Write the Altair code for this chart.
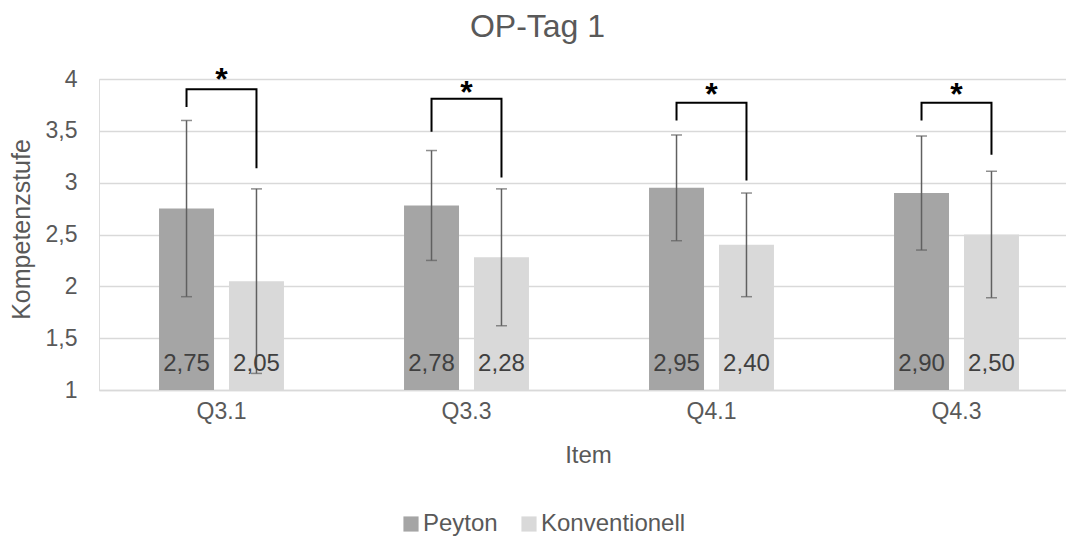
import altair as alt
import pandas as pd

# ---- data ----
items = ["Q3.1", "Q3.3", "Q4.1", "Q4.3"]
groups = ["Peyton", "Konventionell"]
peyton_mean = [2.75, 2.78, 2.95, 2.90]
peyton_sd = [0.85, 0.53, 0.51, 0.55]
konv_mean = [2.05, 2.28, 2.40, 2.50]
konv_sd = [0.89, 0.66, 0.50, 0.61]
value_labels_p = ["2,75", "2,78", "2,95", "2,90"]
value_labels_k = ["2,05", "2,28", "2,40", "2,50"]

# significance brackets (y values)
bracket_top = [3.90, 3.81, 3.77, 3.77]
bracket_left_end = [3.73, 3.49, 3.60, 3.60]
bracket_right_end = [3.14, 3.05, 3.02, 3.27]
star_y = [4.07, 3.94, 3.92, 3.92]
star_text = ["*", "*", "*", "*"]

y_ticks = [1, 1.5, 2, 2.5, 3, 3.5, 4]

# ---- tables ----
rows = []
for i, it in enumerate(items):
    rows.append(dict(Item=it, Gruppe="Peyton", mean=peyton_mean[i],
                     lo=peyton_mean[i] - peyton_sd[i], hi=peyton_mean[i] + peyton_sd[i],
                     label=value_labels_p[i]))
    rows.append(dict(Item=it, Gruppe="Konventionell", mean=konv_mean[i],
                     lo=konv_mean[i] - konv_sd[i], hi=konv_mean[i] + konv_sd[i],
                     label=value_labels_k[i]))
df = pd.DataFrame(rows)

brows = []
for i, it in enumerate(items):
    brows += [
        dict(Item=it, Gruppe="Peyton", y=bracket_left_end[i], o=0),
        dict(Item=it, Gruppe="Peyton", y=bracket_top[i], o=1),
        dict(Item=it, Gruppe="Konventionell", y=bracket_top[i], o=2),
        dict(Item=it, Gruppe="Konventionell", y=bracket_right_end[i], o=3),
    ]
bdf = pd.DataFrame(brows)
sdf = pd.DataFrame(dict(Item=items, y=star_y, t=star_text))

FONT = "Liberation Sans"
TXT = "#595959"

xscale = alt.Scale(domain=items, range=[0, 980], paddingInner=0.49, paddingOuter=0.245)
offscale = alt.Scale(domain=groups, paddingInner=0.214, paddingOuter=0)
yscale = alt.Scale(domain=[1, 4], nice=False, zero=False)

X = alt.X("Item:N", scale=xscale, sort=items,
          axis=alt.Axis(title="Item", labelAngle=0, ticks=False, tickSize=0, domain=True,
                        domainColor="#d9d9d9", domainWidth=1.5, labelPadding=10,
                        labelFontSize=23, labelColor=TXT, labelFont=FONT,
                        titleFontSize=24, titleColor=TXT, titleFont=FONT, titleFontWeight="normal",
                        titleX=489, titleY=65, titleBaseline="middle", titleAlign="center"))
XO = alt.XOffset("Gruppe:N", scale=offscale, sort=groups)
Y = alt.Y("mean:Q", scale=yscale,
          axis=alt.Axis(title="Kompetenzstufe", values=y_ticks, ticks=False, tickSize=0, domain=False,
                        grid=True, gridColor="#d9d9d9", gridWidth=1.5, labelPadding=22,
                        labelExpr="replace(format(datum.value, ''), '.', ',')",
                        labelFontSize=23, labelColor=TXT, labelFont=FONT,
                        titleFontSize=25, titleColor=TXT, titleFont=FONT, titleFontWeight="normal",
                        titleX=-78, titleY=150, titleBaseline="middle", titleAlign="center", titleAngle=-90))

base = alt.Chart(df)

bars = base.mark_bar().encode(
    x=X, xOffset=XO, y=Y,
    y2=alt.Y2(datum=1),
    color=alt.Color("Gruppe:N", sort=groups,
                    scale=alt.Scale(domain=groups, range=["#a5a5a5", "#d9d9d9"]),
                    legend=alt.Legend(title=None, orient="none", direction="horizontal",
                                      legendX=300, legendY=433, symbolType="square",
                                      symbolSize=230, symbolStrokeWidth=0, labelFontSize=24,
                                      labelColor=TXT, labelFont=FONT, labelOffset=0,
                                      columnPadding=19, padding=0)),
)

err = base.mark_rule(color="#606060", strokeWidth=1.5).encode(
    x=alt.X("Item:N", scale=xscale, sort=items), xOffset=XO,
    y=alt.Y("lo:Q", scale=yscale), y2="hi:Q")
cap_lo = base.mark_tick(color="#606060", thickness=1.5, size=11).encode(
    x=alt.X("Item:N", scale=xscale, sort=items), xOffset=XO, y=alt.Y("lo:Q", scale=yscale))
cap_hi = base.mark_tick(color="#606060", thickness=1.5, size=11).encode(
    x=alt.X("Item:N", scale=xscale, sort=items), xOffset=XO, y=alt.Y("hi:Q", scale=yscale))

labels = base.mark_text(fontSize=24, font=FONT, color="#404040", baseline="middle", dy=-26).encode(
    x=alt.X("Item:N", scale=xscale, sort=items), xOffset=XO,
    y=alt.Y(datum=1, scale=yscale), text="label:N")

brackets = alt.Chart(bdf).mark_line(color="black", strokeWidth=2).encode(
    x=alt.X("Item:N", scale=xscale, sort=items), xOffset=alt.XOffset("Gruppe:N", scale=offscale, sort=groups),
    y=alt.Y("y:Q", scale=yscale), detail="Item:N", order="o:Q")

stars = alt.Chart(sdf).mark_text(fontSize=32, font=FONT, fontWeight="bold", color="black",
                                 baseline="alphabetic", dy=18).encode(
    x=alt.X("Item:N", scale=xscale, sort=items),
    y=alt.Y("y:Q", scale=yscale), text="t:N")

chart = alt.layer(bars, err, cap_lo, cap_hi, labels, brackets, stars).properties(
    width=967, height=311,
    title=alt.TitleParams("OP-Tag 1", fontSize=32, font=FONT, color=TXT, fontWeight="normal",
                          anchor="middle", frame="group", dx=-45, offset=20),
    autosize=alt.AutoSizeParams(type="none"),
    padding={"left": 99, "top": 79, "right": 0, "bottom": 149},
).configure_view(stroke=None).configure(background="white")

chart.save("out.html", embed_options={"renderer": "svg", "actions": False})
